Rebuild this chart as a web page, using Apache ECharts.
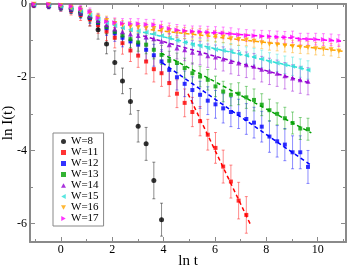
<!DOCTYPE html>
<html><head><meta charset="utf-8">
<script src="https://cdn.jsdelivr.net/npm/echarts@6/dist/echarts.min.js"></script>
<style>html,body{margin:0;padding:0;background:#fff}#c{width:349px;height:270px}</style>
</head><body><div id="c"></div>
<script>
// ln t values (shared grid)
const lnT = [-1.05,-0.47,0.0,0.40,0.77,1.13,1.45,1.78,2.10,2.40,2.71,3.01,3.32,3.62,3.92,4.22,4.52,4.82,5.12,5.42,5.72,6.02,6.32,6.62,6.92,7.22,7.52,7.82,8.12,8.42,8.72,9.02,9.32,9.62,9.92,10.22,10.52,10.82];
const names = ['W=8','W=11','W=12','W=13','W=14','W=15','W=16','W=17'];
const w8  = [-0.02,-0.03,-0.07,-0.13,-0.22,-0.38,-0.70,-1.09,-1.60,-2.10,-2.66,-3.34,-3.82,-4.82,-5.89];
const e8  = [0.08,0.09,0.10,0.12,0.15,0.22,0.26,0.27,0.32,0.35,0.35,0.43,0.45,0.50,0.45];
const w11 = [-0.03,-0.05,-0.10,-0.18,-0.30,-0.42,-0.58,-0.75,-0.92,-1.07,-1.27,-1.41,-1.57,-1.78,-1.89,-2.16,-2.45,-2.70,-2.95,-3.20,-3.57,-3.93,-4.44,-4.85,-5.37,-5.76];
const e11 = [0.06,0.08,0.10,0.12,0.15,0.18,0.22,0.25,0.28,0.30,0.30,0.32,0.34,0.35,0.36,0.36,0.38,0.38,0.40,0.40,0.42,0.42,0.45,0.45,0.50,0.50];
const w12 = [-0.03,-0.06,-0.10,-0.16,-0.27,-0.38,-0.52,-0.66,-0.80,-0.92,-1.02,-1.11,-1.25,-1.40,-1.57,-1.80,-2.00,-2.18,-2.35,-2.48,-2.64,-2.74,-2.85,-2.95,-3.00,-3.14,-3.24,-3.35,-3.62,-3.75,-3.84,-4.05,-4.05,-4.45];
const e12 = [0.05,0.07,0.09,0.10,0.12,0.15,0.18,0.20,0.22,0.25,0.27,0.28,0.30,0.30,0.32,0.33,0.35,0.35,0.36,0.37,0.38,0.38,0.40,0.40,0.40,0.42,0.42,0.42,0.43,0.43,0.44,0.45,0.45,0.45];
const w13 = [-0.02,-0.05,-0.09,-0.15,-0.25,-0.36,-0.50,-0.63,-0.76,-0.86,-0.96,-1.05,-1.11,-1.25,-1.39,-1.55,-1.61,-1.75,-1.89,-1.98,-2.07,-2.25,-2.39,-2.48,-2.45,-2.55,-2.62,-2.75,-2.90,-3.00,-3.12,-3.25,-3.40,-3.42];
const e13 = [0.05,0.06,0.08,0.10,0.12,0.14,0.16,0.18,0.20,0.22,0.23,0.24,0.25,0.25,0.26,0.26,0.27,0.27,0.28,0.28,0.28,0.28,0.28,0.30,0.30,0.30,0.30,0.30,0.30,0.30,0.30,0.30,0.30,0.30];
const w14 = [-0.02,-0.04,-0.08,-0.13,-0.22,-0.32,-0.45,-0.57,-0.68,-0.76,-0.82,-0.86,-0.90,-0.95,-1.02,-1.11,-1.20,-1.25,-1.32,-1.34,-1.41,-1.45,-1.50,-1.57,-1.61,-1.66,-1.70,-1.78,-1.84,-1.89,-1.96,-2.02,-2.07,-2.11];
const e14 = [0.05,0.06,0.08,0.10,0.12,0.14,0.16,0.18,0.20,0.22,0.24,0.25,0.26,0.28,0.28,0.30,0.30,0.30,0.32,0.32,0.32,0.33,0.33,0.34,0.34,0.35,0.35,0.35,0.36,0.36,0.36,0.36,0.37,0.37];
const w15 = [-0.01,-0.03,-0.07,-0.12,-0.20,-0.30,-0.41,-0.51,-0.59,-0.65,-0.70,-0.74,-0.77,-0.81,-0.87,-0.93,-1.00,-1.05,-1.11,-1.15,-1.20,-1.24,-1.27,-1.30,-1.36,-1.40,-1.44,-1.50,-1.57,-1.61,-1.66,-1.70,-1.75,-1.80];
const e15 = [0.04,0.05,0.07,0.09,0.10,0.12,0.14,0.15,0.16,0.17,0.18,0.18,0.19,0.19,0.20,0.20,0.20,0.21,0.21,0.21,0.22,0.22,0.22,0.22,0.23,0.23,0.23,0.24,0.24,0.24,0.24,0.25,0.25,0.25];
const w16 = [-0.01,-0.02,-0.05,-0.10,-0.17,-0.26,-0.36,-0.45,-0.53,-0.58,-0.62,-0.64,-0.66,-0.67,-0.71,-0.74,-0.77,-0.79,-0.81,-0.83,-0.85,-0.88,-0.90,-0.95,-0.97,-0.98,-1.02,-1.06,-1.10,-1.11,-1.14,-1.16,-1.18,-1.19,-1.22,-1.23,-1.25,-1.29];
const e16 = [0.04,0.05,0.06,0.08,0.09,0.10,0.11,0.12,0.13,0.13,0.14,0.14,0.14,0.15,0.15,0.15,0.15,0.15,0.15,0.16,0.16,0.16,0.16,0.16,0.16,0.16,0.16,0.16,0.16,0.17,0.17,0.17,0.17,0.17,0.17,0.17,0.17,0.17];
const w17 = [0.00,-0.01,-0.03,-0.07,-0.13,-0.21,-0.38,-0.48,-0.51,-0.53,-0.54,-0.54,-0.56,-0.57,-0.62,-0.67,-0.71,-0.73,-0.75,-0.76,-0.77,-0.78,-0.79,-0.81,-0.84,-0.86,-0.87,-0.88,-0.89,-0.90,-0.91,-0.90,-0.96,-0.96,-0.96,-0.97,-0.98,-1.00];
const e17 = [0.04,0.05,0.06,0.08,0.09,0.10,0.11,0.12,0.13,0.13,0.14,0.14,0.14,0.15,0.15,0.15,0.15,0.15,0.15,0.16,0.16,0.16,0.16,0.16,0.16,0.16,0.16,0.16,0.16,0.16,0.16,0.16,0.16,0.16,0.16,0.16,0.16,0.16];
// dashed fit lines: [start, end] in (ln t, ln I)
const fit8  = null;
const fit11 = [[4.95,-2.45],[7.40,-6.05]];
const fit12 = [[3.95,-1.61],[9.75,-4.41]];
const fit13 = [[3.90,-1.34],[9.75,-3.52]];
const fit14 = [[3.20,-0.87],[9.75,-2.17]];
const fit15 = [[3.20,-0.77],[9.70,-1.81]];
const fit16 = [[3.50,-0.70],[11.00,-1.29]];
const fit17 = [[4.50,-0.72],[11.00,-1.02]];
const xMajor = [0,2,4,6,8,10], xMinor = [-1,1,3,5,7,9,11];
const yMajor = [0,-2,-4,-6], yMinor = [-1,-3,-5];

const vals = [w8,w11,w12,w13,w14,w15,w16,w17];
const errs = [e8,e11,e12,e13,e14,e15,e16,e17];
const fits = [fit8,fit11,fit12,fit13,fit14,fit15,fit16,fit17];
const colors = ['#000000','#ff0000','#0000ff','#00a000','#9400d3','#30e0d8','#ffa500','#ff00ff'];
const symbols = ['circle','rect','rect','rect','path://M5,0L10,9L0,9Z','path://M0,5L9,0L9,10Z','path://M0,0L10,0L5,9Z','path://M0,0L9,5L0,10Z'];
const sizes = [5,4,4,4,5,5,5,5];

const chart = echarts.init(document.getElementById('c'), null, {renderer:'canvas'});
const FONT = 'Liberation Serif';
const AX = '#8a8a8a';
function xa(pos, ticks, len, labels, line, name){
  return {type:'value', min:-1.2, max:11.1, position:pos, splitLine:{show:false},
    axisLine:{show:line, onZero:false, lineStyle:{color:AX, width:2}},
    axisTick:{show:true, inside:true, length:len, customValues:ticks, lineStyle:{color:AX, width:1}},
    axisLabel:{show:labels, customValues:ticks, color:'#000', fontFamily:FONT, fontSize:12, margin:2},
    name:name||'', nameLocation:'middle', nameGap:12, nameMoveOverlap:false,
    nameTextStyle:{color:'#000', fontFamily:FONT, fontSize:15}};
}
function ya(pos, ticks, len, labels, line, name){
  return {type:'value', min:-6.5, max:0, position:pos, splitLine:{show:false},
    axisLine:{show:line, onZero:false, lineStyle:{color:AX, width:2}},
    axisTick:{show:true, inside:true, length:len, customValues:ticks, lineStyle:{color:AX, width:1}},
    axisLabel:{show:labels, customValues:ticks, color:'#000', fontFamily:FONT, fontSize:12, margin:3},
    name:name||'', nameLocation:'middle', nameGap:14, nameMoveOverlap:false,
    nameTextStyle:{color:'#000', fontFamily:FONT, fontSize:15}};
}
const series = [];
names.forEach((nm,i)=>{
  const data = vals[i].map((v,k)=>[lnT[k], v, errs[i][k]]);
  const col = colors[i];
  series.push({type:'custom', name:'err'+nm, clip:true, z:2,
    renderItem:(params, api)=>{
      const x=api.value(0), y=api.value(1), e=api.value(2);
      const a=api.coord([x,y+e]), b=api.coord([x,y-e]);
      const st={stroke:col, lineWidth:1, opacity:0.45};
      return {type:'group', children:[
        {type:'line', shape:{x1:a[0],y1:a[1],x2:b[0],y2:b[1]}, style:st},
        {type:'line', shape:{x1:a[0]-1.5,y1:a[1],x2:a[0]+1.5,y2:a[1]}, style:st},
        {type:'line', shape:{x1:b[0]-1.5,y1:b[1],x2:b[0]+1.5,y2:b[1]}, style:st}
      ]};
    },
    encode:{x:0,y:1}, data:data, silent:true});
  if (fits[i]) series.push({type:'line', name:'fit'+nm, data:fits[i], symbol:'none', z:3,
    lineStyle:{color:col, width:1.5, type:[4,3]}, silent:true});
  series.push({type:'scatter', name:nm, data:data.map(d=>[d[0],d[1]]), symbol:symbols[i], symbolSize:sizes[i],
    itemStyle:{color:col}, z:4});
});
chart.setOption({
  animation:false,
  backgroundColor:'#fff',
  grid:{left:30, right:3, top:4, bottom:28, containLabel:false, outerBoundsMode:'none'},
  xAxis:[xa('bottom',xMajor,5,true,true,'ln t'), xa('bottom',xMinor,3,false,false), xa('top',xMajor,5,false,true), xa('top',xMinor,3,false,false)],
  yAxis:[ya('left',yMajor,5,true,true,'ln I(t)'), ya('left',yMinor,3,false,false), ya('right',yMajor,5,false,true), ya('right',yMinor,3,false,false)],
  legend:{data:names, orient:'vertical', left:53, top:133, itemWidth:5, itemHeight:5, itemGap:0,
    padding:[3,5,2,8], borderColor:'#888', borderWidth:1, backgroundColor:'#fff',
    textStyle:{fontFamily:FONT, fontSize:11, color:'#000', lineHeight:10, height:10, padding:0}},
  series:series
});
</script></body></html>
